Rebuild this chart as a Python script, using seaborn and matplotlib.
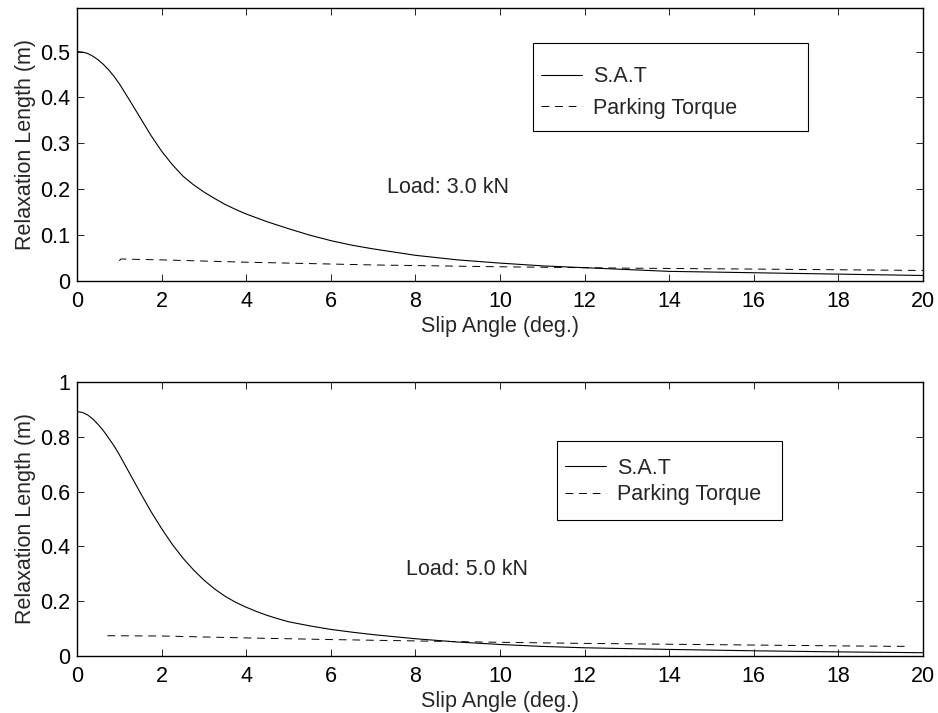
import numpy as np
import pandas as pd
import matplotlib
matplotlib.use("Agg")
import matplotlib.pyplot as plt
from matplotlib.patches import Rectangle
from matplotlib.ticker import FuncFormatter
import seaborn as sns

# ---- data ----
sat3_x = [0, 0.125, 0.25, 0.375, 0.5, 0.625, 0.75, 0.875, 1.0, 1.25, 1.5, 1.75, 2.0, 2.25,
          2.5, 2.75, 3.0, 3.25, 3.5, 3.75, 4.0, 4.5, 5.0, 5.5, 6.0, 6.5, 7.0, 8.0, 9.0,
          10.0, 11.0, 12.0, 13.0, 14.0, 16.0, 18.0, 20.0]
sat3_y = [0.500, 0.499, 0.496, 0.490, 0.482, 0.472, 0.460, 0.446, 0.430, 0.393, 0.355, 0.317,
          0.283, 0.254, 0.229, 0.210, 0.194, 0.180, 0.167, 0.156, 0.146, 0.129, 0.114, 0.100,
          0.088, 0.078, 0.070, 0.056, 0.046, 0.039, 0.033, 0.029, 0.025, 0.021, 0.018, 0.015,
          0.012]
park3_x = [1.0, 1.04, 2.0, 4.0, 7.0, 10.0, 13.0, 16.0, 20.0]
park3_y = [0.044, 0.048, 0.046, 0.041, 0.035, 0.031, 0.028, 0.026, 0.023]

sat5_x = [0, 0.125, 0.25, 0.375, 0.5, 0.625, 0.75, 0.875, 1.0, 1.25, 1.5, 1.75, 2.0, 2.25,
          2.5, 2.75, 3.0, 3.25, 3.5, 3.75, 4.0, 4.25, 4.5, 4.75, 5.0, 5.5, 6.0, 6.5, 7.0,
          8.0, 9.0, 10.0, 11.0, 12.0, 13.0, 14.0, 16.0, 18.0, 20.0]
sat5_y = [0.892, 0.889, 0.880, 0.865, 0.845, 0.822, 0.795, 0.767, 0.735, 0.665, 0.595, 0.527,
          0.465, 0.408, 0.358, 0.315, 0.277, 0.245, 0.218, 0.196, 0.178, 0.162, 0.148, 0.136,
          0.125, 0.110, 0.097, 0.087, 0.078, 0.063, 0.051, 0.042, 0.035, 0.030, 0.027, 0.024,
          0.019, 0.015, 0.012]
park5_x = [0.72, 2.0, 4.0, 6.0, 8.0, 10.0, 12.0, 14.0, 16.0, 18.0, 19.7]
park5_y = [0.074, 0.073, 0.066, 0.060, 0.055, 0.050, 0.046, 0.043, 0.040, 0.037, 0.035]

x_ticks = [0, 2, 4, 6, 8, 10, 12, 14, 16, 18, 20]
y_ticks_top = [0, 0.1, 0.2, 0.3, 0.4, 0.5]
y_ticks_bot = [0, 0.2, 0.4, 0.6, 0.8, 1.0]
series_labels = ["S.A.T", "Parking Torque"]
load_labels = ["Load: 3.0 kN", "Load: 5.0 kN"]
x_label = "Slip Angle (deg.)"
y_label = "Relaxation Length (m)"

# ---- style ----
sns.set_style("ticks")
plt.rcParams["font.family"] = ["Liberation Sans", "DejaVu Sans"]
plt.rcParams.update({
    "xtick.direction": "in", "ytick.direction": "in",
    "xtick.top": True, "ytick.right": True,
    "xtick.major.size": 5, "ytick.major.size": 5,
    "xtick.major.width": 0.6, "ytick.major.width": 0.6,
    "xtick.color": "black", "ytick.color": "black",
    "axes.edgecolor": "black", "axes.linewidth": 1.0,
})
FS = 15.5

W, H = 938, 713
fig = plt.figure(figsize=(W / 100, H / 100), dpi=100)
ax1 = fig.add_axes([77 / W, 1 - 281 / H, 846 / W, 273 / H])
ax2 = fig.add_axes([77 / W, 1 - 656 / H, 846 / W, 274 / H])

fmt = FuncFormatter(lambda v, p: "%g" % round(v, 3))

def draw(ax, sx, sy, px, py, ylim, yt, load_text, tx, ty):
    d1 = pd.DataFrame({"x": sx, "y": sy})
    d2 = pd.DataFrame({"x": px, "y": py})
    sns.lineplot(data=d1, x="x", y="y", ax=ax, color="black", linewidth=0.8,
                 sort=False, estimator=None, label=series_labels[0])
    sns.lineplot(data=d2, x="x", y="y", ax=ax, color="black", linewidth=0.7,
                 linestyle=(0, (8, 6)), sort=False, estimator=None, label=series_labels[1])
    ax.set_xlim(0, 20)
    ax.set_ylim(*ylim)
    ax.set_xticks(x_ticks)
    ax.set_yticks(yt)
    ax.xaxis.set_major_formatter(fmt)
    ax.yaxis.set_major_formatter(fmt)
    ax.tick_params(axis="x", labelsize=FS, pad=7)
    ax.tick_params(axis="y", labelsize=FS, pad=5)
    ax.set_xlabel(x_label, fontsize=FS, labelpad=3)
    ax.set_ylabel(y_label, fontsize=FS, labelpad=3)
    ax.text(tx, ty, load_text, fontsize=FS, ha="left", va="center")
    for s in ax.spines.values():
        s.set_visible(True)
        s.set_color("black")

draw(ax1, sat3_x, sat3_y, park3_x, park3_y, (0, 0.595), y_ticks_top, load_labels[0], 7.33, 0.204)
draw(ax2, sat5_x, sat5_y, park5_x, park5_y, (0, 1.0), y_ticks_bot, load_labels[1], 7.78, 0.314)

# legends: frameless legend + explicit box
def legend(ax, box, cy, lx, spacing):
    h, l = ax.get_legend_handles_labels()
    lg = ax.legend(h, l, loc="center left", bbox_to_anchor=(lx / W, 1 - cy / H),
                   bbox_transform=fig.transFigure, frameon=False, fontsize=FS,
                   handlelength=1.9, handletextpad=0.5, borderpad=0, borderaxespad=0,
                   labelspacing=spacing)
    lg.set_zorder(6)
    x0, y0, x1, y1 = box
    ax.add_patch(Rectangle((x0 / W, 1 - y1 / H), (x1 - x0) / W, (y1 - y0) / H,
                           transform=fig.transFigure, fill=True, facecolor="white",
                           edgecolor="black", linewidth=0.8, zorder=4, clip_on=False))
    return lg

legend(ax1, (533, 43, 808, 131), 92.5, 541, 0.5)
legend(ax2, (557, 441, 782, 520), 481.5, 565, 0.25)

fig.savefig("out.png", dpi=100)
